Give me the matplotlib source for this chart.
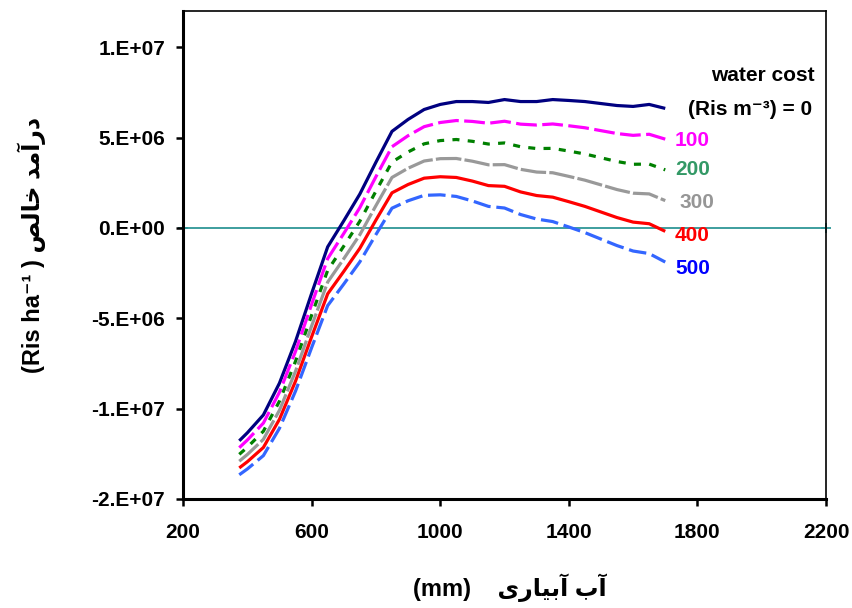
import numpy as np
import matplotlib
matplotlib.use("Agg")
import matplotlib.pyplot as plt

# irrigation water (mm)
water = [375, 400, 450, 500, 550, 600, 650, 700, 750, 800, 850, 900, 950, 1000,
         1050, 1100, 1150, 1200, 1250, 1300, 1350, 1400, 1450, 1500, 1550, 1600, 1650, 1700]

# net income (million Ris/ha) for each water cost
cost_0 = [-11.78, -11.34, -10.35, -8.59, -6.28, -3.63, -1.05, 0.39, 1.87, 3.63, 5.34, 6.00, 6.55, 6.83,
          6.99, 6.99, 6.94, 7.10, 6.99, 6.99, 7.10, 7.05, 6.99, 6.88, 6.77, 6.72, 6.83, 6.61]
cost_100 = [-12.16, -11.74, -10.80, -9.09, -6.83, -4.23, -1.70, -0.31, 1.12, 2.83, 4.49, 5.10, 5.60, 5.83,
            5.94, 5.89, 5.79, 5.90, 5.74, 5.69, 5.75, 5.65, 5.54, 5.38, 5.22, 5.12, 5.18, 4.91]
cost_200 = [-12.53, -12.14, -11.25, -9.59, -7.38, -4.83, -2.35, -1.01, 0.37, 2.03, 3.64, 4.20, 4.65, 4.83,
            4.89, 4.79, 4.64, 4.70, 4.49, 4.39, 4.40, 4.25, 4.09, 3.88, 3.67, 3.52, 3.53, 3.21]
cost_300 = [-12.91, -12.54, -11.70, -10.09, -7.93, -5.43, -3.00, -1.71, -0.38, 1.23, 2.79, 3.30, 3.70, 3.83,
            3.84, 3.69, 3.49, 3.50, 3.24, 3.09, 3.05, 2.85, 2.64, 2.38, 2.12, 1.92, 1.88, 1.51]
cost_400 = [-13.28, -12.94, -12.15, -10.59, -8.48, -6.03, -3.65, -2.41, -1.13, 0.43, 1.94, 2.40, 2.75, 2.83,
            2.79, 2.59, 2.34, 2.30, 1.99, 1.79, 1.70, 1.45, 1.19, 0.88, 0.57, 0.32, 0.23, -0.19]
cost_500 = [-13.66, -13.34, -12.60, -11.09, -9.03, -6.63, -4.30, -3.11, -1.88, -0.37, 1.09, 1.50, 1.80, 1.83,
            1.74, 1.49, 1.19, 1.10, 0.74, 0.49, 0.35, 0.05, -0.26, -0.62, -0.98, -1.28, -1.42, -1.89]

x_ticks = [200, 600, 1000, 1400, 1800, 2200]
y_ticks = [-15e6, -10e6, -5e6, 0, 5e6, 10e6]
y_tick_labels = ["-2.E+07", "-1.E+07", "-5.E+06", "0.E+00", "5.E+06", "1.E+07"]

FONT = ["Liberation Sans", "DejaVu Sans"]
plt.rcParams["font.family"] = FONT
plt.rcParams["font.weight"] = "bold"

fig = plt.figure(figsize=(8.53, 6.08), dpi=100)
ax = fig.add_axes([183 / 853, 1 - 499 / 608, (826 - 183) / 853, (499 - 11) / 608])

lw = 2.3
series = [
    (cost_0, "#000080", "-", None),
    (cost_100, "#FF00FF", "--", (6.5, 1.7)),
    (cost_200, "#008000", "--", (2.2, 2.6)),
    (cost_300, "#999999", "--", (8, 1.0)),
    (cost_400, "#FF0000", "-", None),
    (cost_500, "#3366FF", "--", (5.5, 1.8)),
]
for vals, col, ls, dash in series:
    y = np.array(vals) * 1e6
    line, = ax.plot(water, y, color=col, linestyle=ls, linewidth=lw,
                    solid_capstyle="butt", dash_capstyle="butt")
    if dash is not None:
        line.set_dashes(dash)

# zero line
ax.plot([200, 2200], [0, 0], color="#2E9696", linewidth=1.3, marker="+",
        markersize=7, markeredgewidth=1.3, clip_on=False, zorder=1)

ax.set_xlim(200, 2200)
ax.set_ylim(-15e6, 12e6)
ax.set_xticks(x_ticks)
ax.set_xticklabels([str(t) for t in x_ticks])
ax.set_yticks(y_ticks)
ax.set_yticklabels(y_tick_labels)
ax.tick_params(direction="out", length=5, width=1.8, labelsize=15, pad=8)
ax.tick_params(axis="x", pad=12)
for lab in ax.get_xticklabels() + ax.get_yticklabels():
    lab.set_fontweight("bold")

for side in ["left", "bottom"]:
    ax.spines[side].set_linewidth(2.2)
for side in ["top", "right"]:
    ax.spines[side].set_linewidth(1.2)

# curve labels
ax.text(2166, 8.43e6, "water cost", ha="right", va="center", fontsize=15, fontweight="bold")
ax.text(2156, 6.55e6, "(Ris m\u207b\u00b3) = 0", ha="right", va="center", fontsize=15, fontweight="bold")
labels = [("100", 4.85e6, "#FF00FF", 1730), ("200", 3.25e6, "#339966", 1730),
          ("300", 1.43e6, "#969696", 1743), ("400", -0.44e6, "#FF0000", 1730),
          ("500", -2.26e6, "#0000FF", 1733)]
for txt, yv, col, xv in labels:
    ax.text(xv, yv, txt, ha="left", va="center", fontsize=15, fontweight="bold", color=col)

# axis titles (Persian, shaped glyphs in visual order)
ylab = "(Ris ha\u207b\u00b9 ) " + "\uFEBA\uFEDF\uFE8E\uFEA7 \uFEAA\uFEE3\uFE81\uFEAD\uFEA9"
fig.text(32 / 853, 1 - 245 / 608, ylab, rotation=90, ha="center", va="center",
         fontsize=17, fontweight="bold")
xlab = "(mm)    " + "\uFBFC\uFEAD\uFE8E\uFBFF\uFE91\uFE81 \uFE8F\uFE81"
fig.text(510 / 853, 1 - 588 / 608, xlab, ha="center", va="center",
         fontsize=17, fontweight="bold")

fig.savefig("out.png", dpi=100)
